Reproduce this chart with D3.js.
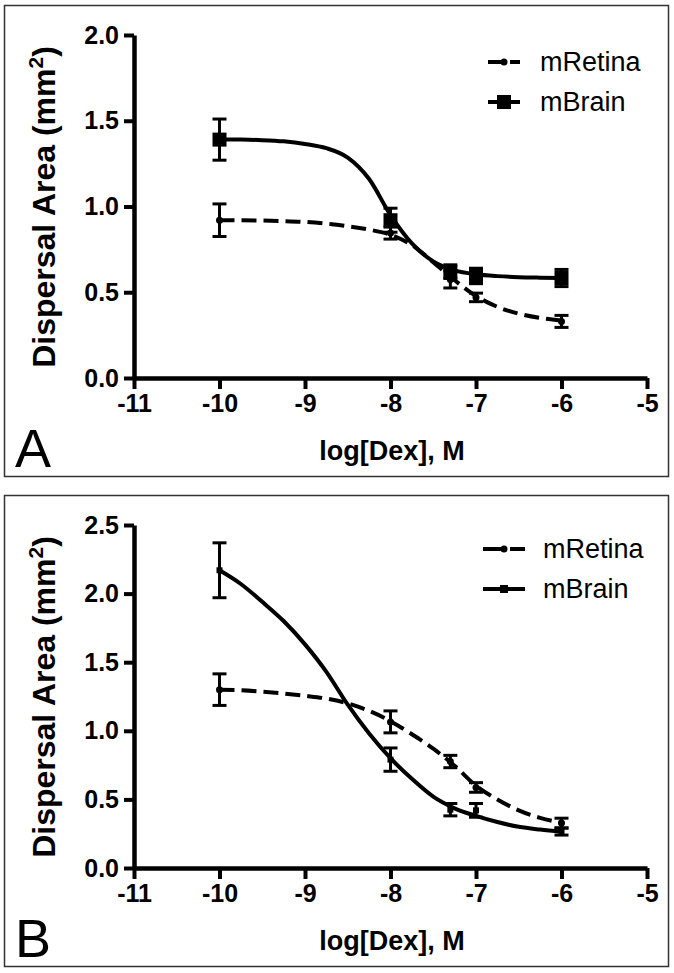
<html>
<head>
<meta charset="utf-8">
<title>Dispersal area vs log[Dex]</title>
<style>
  body { margin: 0; background: #fff; }
  svg text { font-family: "Liberation Sans", Arial, sans-serif; fill: #000; }
</style>
</head>
<body>
<svg id="fig" width="674" height="973"></svg>
<script src="https://d3js.org/d3.v7.min.js"></script>
<script>
// ---- data ----
const xTicks = [-11, -10, -9, -8, -7, -6, -5];
const yTicksA = [0, 0.5, 1.0, 1.5, 2.0];
const yTicksB = [0, 0.5, 1.0, 1.5, 2.0, 2.5];
const seriesNames = ["mRetina", "mBrain"];

// measured doses, log M
const dose = [-10, -8, -7.3, -7, -6];

// panel A
const retinaA = [0.92, 0.845, 0.575, 0.47, 0.33];
const retinaAErr = [0.095, 0.035, 0.05, 0.025, 0.035];
const brainA = [1.39, 0.92, 0.62, 0.595, 0.583];
const brainAErr = [0.12, 0.07, 0.04, 0.045, 0.05];

// panel B
const retinaB = [1.30, 1.065, 0.776, 0.587, 0.328];
const retinaBErr = [0.115, 0.08, 0.045, 0.035, 0.035];
const brainB = [2.17, 0.79, 0.425, 0.42, 0.265];
const brainBErr = [0.2, 0.085, 0.045, 0.05, 0.025];

// fitted curves
const fitX = [-10, -9.75, -9.5, -9.25, -9, -8.75, -8.5, -8.25, -8, -7.75, -7.5, -7.25, -7, -6.75, -6.5, -6.25, -6];
const retinaAFit = [0.92, 0.92, 0.918, 0.915, 0.91, 0.9, 0.885, 0.865, 0.835, 0.775, 0.675, 0.57, 0.478, 0.415, 0.375, 0.35, 0.335];
const brainAFit = [1.39, 1.39, 1.387, 1.38, 1.365, 1.34, 1.285, 1.16, 0.95, 0.785, 0.68, 0.628, 0.605, 0.594, 0.588, 0.585, 0.583];
const retinaBFit = [1.30, 1.295, 1.285, 1.272, 1.255, 1.235, 1.20, 1.145, 1.07, 0.975, 0.87, 0.745, 0.60, 0.50, 0.42, 0.365, 0.33];
const brainBFit = [2.17, 2.07, 1.94, 1.80, 1.63, 1.43, 1.19, 0.98, 0.80, 0.65, 0.52, 0.435, 0.38, 0.335, 0.30, 0.28, 0.265];

// ---- layout ----
const svg = d3.select("#fig");
const font = "\"Liberation Sans\", Arial, sans-serif";

const panels = [
  { top: 0, letter: "A", yMax: 2.0, yTicks: yTicksA,
    retina: retinaA, retinaErr: retinaAErr, retinaFit: retinaAFit,
    brain: brainA, brainErr: brainAErr, brainFit: brainAFit,
    square: 14, legSquare: 14, legX: [488, 520, 540], legY: [62, 102] },
  { top: 490, letter: "B", yMax: 2.5, yTicks: yTicksB,
    retina: retinaB, retinaErr: retinaBErr, retinaFit: retinaBFit,
    brain: brainB, brainErr: brainBErr, brainFit: brainBFit,
    square: 6, legSquare: 8, legX: [483, 525, 543], legY: [59, 99] }
];

panels.forEach(p => {
  const g = svg.append("g").attr("transform", `translate(0,${p.top})`);

  g.append("rect")
    .attr("x", 4.5).attr("y", 5.5).attr("width", 664).attr("height", 471)
    .attr("fill", "none").attr("stroke", "#333").attr("stroke-width", 1.5);

  const x = d3.scaleLinear().domain([-11, -5]).range([134, 647]);
  const y = d3.scaleLinear().domain([0, p.yMax]).range([378, 35]);

  // axes (plain hyphen for minus, like the original)
  const xAxis = g.append("g").attr("transform", `translate(0,${y(0)})`)
    .call(d3.axisBottom(x).tickValues(xTicks).tickFormat(d => String(d))
      .tickSize(11).tickSizeOuter(0).tickPadding(5));
  const yAxis = g.append("g").attr("transform", `translate(${x(-11)},0)`)
    .call(d3.axisLeft(y).tickValues(p.yTicks).tickFormat(d => d.toFixed(1))
      .tickSize(10).tickSizeOuter(0).tickPadding(5));
  [xAxis, yAxis].forEach(a => {
    a.select(".domain").attr("stroke", "#000").attr("stroke-width", 4.5);
    a.selectAll(".tick line").attr("stroke", "#000").attr("stroke-width", 4);
    a.selectAll(".tick text").attr("font-family", font).attr("font-size", 25)
      .attr("font-weight", "bold").attr("fill", "#000");
  });
  xAxis.selectAll(".tick text").attr("dy", "0.72em");

  // axis titles
  g.append("text").attr("x", 392).attr("y", 460).attr("text-anchor", "middle")
    .attr("font-size", 27).attr("font-weight", "bold").text("log[Dex], M");

  const yt = g.append("text").attr("transform", "translate(55,207) rotate(-90)")
    .attr("text-anchor", "middle").attr("font-size", 32).attr("font-weight", "bold");
  yt.append("tspan").text("Dispersal Area (mm");
  yt.append("tspan").attr("font-size", 21).attr("dy", -12).text("2");
  yt.append("tspan").attr("dy", 12).text(")");

  g.append("text").attr("x", 15).attr("y", 467).attr("font-size", 54).text(p.letter);

  // curves
  const line = d3.line().x(d => x(d[0])).y(d => y(d[1])).curve(d3.curveMonotoneX);
  g.append("path").datum(d3.zip(fitX, p.retinaFit)).attr("d", line)
    .attr("fill", "none").attr("stroke", "#000").attr("stroke-width", 4)
    .attr("stroke-dasharray", "15,7");
  g.append("path").datum(d3.zip(fitX, p.brainFit)).attr("d", line)
    .attr("fill", "none").attr("stroke", "#000").attr("stroke-width", 4);

  // error bars + markers
  function errBars(means, errs) {
    const eg = g.append("g").attr("stroke", "#000").attr("stroke-width", 3);
    dose.forEach((d, i) => {
      const cx = x(d), top = y(means[i] + errs[i]), bot = y(means[i] - errs[i]);
      eg.append("line").attr("x1", cx).attr("x2", cx).attr("y1", top).attr("y2", bot);
      eg.append("line").attr("x1", cx - 7).attr("x2", cx + 7).attr("y1", top).attr("y2", top);
      eg.append("line").attr("x1", cx - 7).attr("x2", cx + 7).attr("y1", bot).attr("y2", bot);
    });
  }
  errBars(p.retina, p.retinaErr);
  errBars(p.brain, p.brainErr);

  g.selectAll(".dotR").data(d3.zip(dose, p.retina)).join("circle")
    .attr("cx", d => x(d[0])).attr("cy", d => y(d[1])).attr("r", 3.5).attr("fill", "#000");
  g.selectAll(".sqB").data(d3.zip(dose, p.brain)).join("rect")
    .attr("x", d => x(d[0]) - p.square / 2).attr("y", d => y(d[1]) - p.square / 2)
    .attr("width", p.square).attr("height", p.square).attr("fill", "#000");

  // legend
  const [lx0, lx1, tx] = p.legX;
  const lm = (lx0 + lx1) / 2;
  seriesNames.forEach((name, i) => {
    const ly = p.legY[i];
    if (i === 0) {
      g.append("line").attr("x1", lx0).attr("x2", lm).attr("y1", ly).attr("y2", ly)
        .attr("stroke", "#000").attr("stroke-width", 4);
      g.append("line").attr("x1", lm + 6).attr("x2", lx1).attr("y1", ly).attr("y2", ly)
        .attr("stroke", "#000").attr("stroke-width", 4);
      g.append("circle").attr("cx", lm).attr("cy", ly).attr("r", 3.5).attr("fill", "#000");
    } else {
      g.append("line").attr("x1", lx0).attr("x2", lx1).attr("y1", ly).attr("y2", ly)
        .attr("stroke", "#000").attr("stroke-width", 4);
      g.append("rect").attr("x", lm - p.legSquare / 2).attr("y", ly - p.legSquare / 2)
        .attr("width", p.legSquare).attr("height", p.legSquare).attr("fill", "#000");
    }
    g.append("text").attr("x", tx).attr("y", ly).attr("dy", "0.35em")
      .attr("font-size", 27).text(name);
  });
});
</script>
</body>
</html>
